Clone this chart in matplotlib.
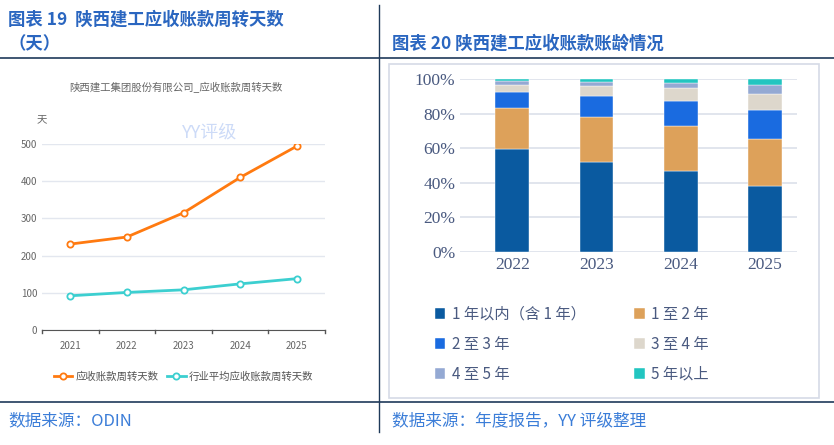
import numpy as np
import matplotlib.pyplot as plt
from matplotlib.patches import Rectangle

plt.rcParams['font.family'] = ['Noto Sans CJK SC', 'DejaVu Sans']

# left chart data
years_l = ['2021', '2022', '2023', '2024', '2025']
days_company = [231, 250, 315, 410, 494]
days_industry = [92, 101, 108, 124, 138]

# right chart data (%)
years_r = ['2022', '2023', '2024', '2025']
age_labels = ['1 年以内（含 1 年）', '1 至 2 年', '2 至 3 年', '3 至 4 年', '4 至 5 年', '5 年以上']
age_values = [
    [59.8, 51.9, 46.7, 38.4],
    [23.4, 26.3, 25.9, 26.9],
    [9.5, 12.0, 14.5, 16.9],
    [3.8, 5.6, 7.5, 9.1],
    [2.5, 2.3, 3.1, 5.2],
    [1.0, 1.9, 2.3, 3.5],
]
age_colors = ['#0A5AA0', '#DDA15A', '#1A6BE0', '#DDD7CC', '#94A9D3', '#22C5C0']

fig = plt.figure(figsize=(8.34, 4.45), dpi=100)
W, H = 834, 445
navy = '#1F3A5A'
title_c = '#2A66C0'

def fx(px): return px / W
def fy(py): return 1 - py / H

# frame lines
fig.add_artist(plt.Line2D([0, 1], [fy(58), fy(58)], color=navy, lw=1.2))
fig.add_artist(plt.Line2D([0, 1], [fy(402), fy(402)], color=navy, lw=1.2))
fig.add_artist(plt.Line2D([fx(379), fx(379)], [fy(5), fy(432)], color=navy, lw=1.0))
fig.add_artist(Rectangle((fx(389), fy(398)), fx(430), fy(64) - fy(398),
                         transform=fig.transFigure, fill=False, ec='#D5DAE6', lw=1.2))

# titles
fig.text(fx(8), fy(20), '图表 19  陕西建工应收账款周转天数', fontsize=12.5, color=title_c, weight='bold', va='center')
fig.text(fx(8), fy(44), '（天）', fontsize=12.5, color=title_c, weight='bold', va='center')
fig.text(fx(392), fy(44), '图表 20 陕西建工应收账款账龄情况', fontsize=12.5, color=title_c, weight='bold', va='center')
fig.text(fx(8), fy(421), '数据来源：ODIN', fontsize=12, color='#3B7DD8', va='center')
fig.text(fx(392), fy(421), '数据来源：年度报告，YY 评级整理', fontsize=12, color='#3B7DD8', va='center')

# left chart
ax = fig.add_axes([fx(42), fy(330), fx(283), fy(144) - fy(330)])
x = np.arange(len(years_l))
ax.plot(x, days_company, color='#FF7A10', lw=2, marker='o', ms=4.5, mfc='white', mew=1.3, label='应收账款周转天数')
ax.plot(x, days_industry, color='#3CCFD0', lw=2, marker='o', ms=4.5, mfc='white', mew=1.3, label='行业平均应收账款周转天数')
ax.set_xlim(-0.5, 4.5)
ax.set_ylim(0, 500)
ax.set_yticks([0, 100, 200, 300, 400, 500])
ax.set_xticks(x)
ax.set_xticklabels(years_l)
ax.tick_params(labelsize=7, colors='#666666', length=0)
ax.tick_params(axis='x', pad=8)
ax.grid(axis='y', color='#E3E7EF', lw=1)
ax.set_axisbelow(True)
for s in ['top', 'right', 'left']:
    ax.spines[s].set_visible(False)
ax.spines['bottom'].set_color('#555555')
for xv in np.arange(-0.5, 5, 1):
    ax.plot([xv, xv], [0, -8], color='#555555', lw=1, clip_on=False)
fig.text(fx(176), fy(88), '陕西建工集团股份有限公司_应收账款周转天数', fontsize=7.5, color='#666666', ha='center', va='center')
fig.text(fx(42), fy(120), '天', fontsize=7.5, color='#666666', ha='center', va='center')
fig.text(fx(210), fy(133), 'YY评级', fontsize=13, color='#B8CCF5', alpha=0.7, ha='center', va='center')
ax.legend(loc='upper center', bbox_to_anchor=(0.5, -0.17), ncol=2, frameon=False, fontsize=7.5,
          labelcolor='#555555', handlelength=1.8, columnspacing=0.8, handletextpad=0.3)

# right chart
ax2 = fig.add_axes([fx(460), fy(252), fx(337), fy(79) - fy(252)])
xr = np.arange(len(years_r))
bottom = np.zeros(len(years_r))
handles = []
for vals, col, lab in zip(age_values, age_colors, age_labels):
    b = ax2.bar(xr, vals, 0.4, bottom=bottom, color=col, label=lab, edgecolor='white', linewidth=0.3)
    handles.append(b)
    bottom += np.array(vals)
ax2.set_xlim(-0.62, 3.38)
ax2.set_ylim(0, 100)
ax2.set_yticks(range(0, 101, 20))
ax2.set_yticklabels([f'{v}%' for v in range(0, 101, 20)])
ax2.set_xticks(xr)
ax2.set_xticklabels(years_r)
ax2.tick_params(length=0, colors='#4A5A80', labelsize=12.5)
for t in ax2.get_xticklabels() + ax2.get_yticklabels():
    t.set_fontfamily(['Liberation Serif'])
ax2.grid(axis='y', color='#DCE0EA', lw=1.2)
ax2.set_axisbelow(True)
for s in ax2.spines.values():
    s.set_visible(False)
order = [0, 2, 4, 1, 3, 5]
fig.legend(handles=[handles[i] for i in order], labels=[age_labels[i] for i in order],
           loc='upper left', bbox_to_anchor=(fx(421), fy(292)),
           ncol=2, frameon=False, fontsize=11, labelcolor='#4A5A80', handlelength=0.7, handleheight=0.7,
           handletextpad=0.4, columnspacing=3.2, labelspacing=0.85)

fig.savefig('out.png', dpi=100)
